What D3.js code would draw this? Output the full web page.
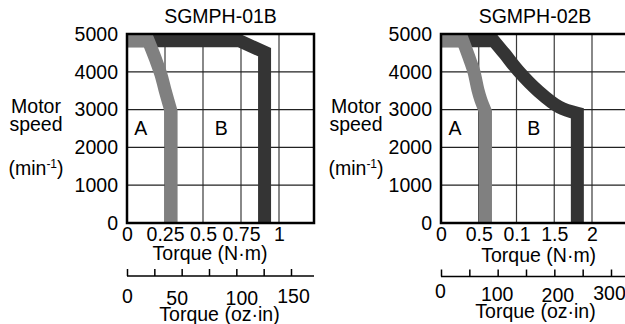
<!DOCTYPE html>
<html><head><meta charset="utf-8">
<script src="https://cdn.jsdelivr.net/npm/d3@7"></script>
<style>
body{margin:0;background:#fff;}
svg{display:block;font-family:"Liberation Sans",Arial,Helvetica,sans-serif;}
</style></head><body>
<svg id="c" width="625" height="324"></svg>
<script>
// ---------- data ----------
const titles = ["SGMPH-01B", "SGMPH-02B"];
const speedTicks = [0, 1000, 2000, 3000, 4000, 5000];

const torqueTicks1 = [0, 0.25, 0.5, 0.75, 1];
const torqueLabels1 = ["0", "0.25", "0.5", "0.75", "1"];
const ozTicks1 = [0, 25, 50, 75, 100, 125, 150];
const ozLabels1 = ["0", "", "50", "", "100", "", "150"];
// region A limit (grey) and region B limit (dark): [torque N·m, speed min-1]
const curveA1 = [[0, 4820], [0.14, 4820], [0.19, 4310], [0.224, 3920], [0.25, 3520], [0.29, 2950], [0.29, 0]];
const curveB1 = [[0, 4820], [0.74, 4820], [0.905, 4520], [0.905, 0]];

const torqueTicks2 = [0, 0.5, 1, 1.5, 2];
const torqueLabels2 = ["0", "0.5", "0.1", "1.5", "2"];
const ozTicks2 = [0, 50, 100, 150, 200, 250, 300];
const ozLabels2 = ["0", "", "100", "", "200", "", "300"];
const curveA2 = [[0, 4820], [0.29, 4820], [0.384, 4310], [0.437, 3995], [0.489, 3520], [0.529, 3250], [0.589, 2950], [0.589, 0]];
const curveB2 = [[0, 4820], [0.70, 4820], [0.842, 4478], [1.023, 4029], [1.292, 3484], [1.565, 3069], [1.806, 2900], [1.806, 0]];

const regionLabels1 = [["A", 0.09, 2330], ["B", 0.62, 2330]];
const regionLabels2 = [["A", 0.185, 2330], ["B", 1.23, 2330]];

// ---------- layout / style ----------
const FS = 19.5;
const svg = d3.select("#c");
const plotTop = 34, plotBottom = 223;
const y = d3.scaleLinear().domain([0, 5000]).range([plotBottom, plotTop]);

const charts = [
  {title: titles[0], titleX: 220.5, left: 127, right: 314,
   x: d3.scaleLinear().domain([0, 1]).range([127, 279]),
   tt: torqueTicks1, tl: torqueLabels1,
   oz: d3.scaleLinear().domain([0, 150]).range([127, 291]), ozT: ozTicks1, ozL: ozLabels1,
   ozY: 276, ozEnd: 314, ozNudge: [[0, 0], [0, 0], [-5, 2], [0, 0], [5, 2.5], [0, 0], [2, 0]], ozBase: 302.5,
   A: curveA1, B: curveB1, regions: regionLabels1,
   ylabX: 36, nmX: 210, nmY: 260, ozTitleX: 219.5, ozTitleY: 321},
  {title: titles[1], titleX: 535, left: 441, right: 660,
   x: d3.scaleLinear().domain([0, 2]).range([441, 592]),
   tt: torqueTicks2, tl: torqueLabels2,
   oz: d3.scaleLinear().domain([0, 300]).range([441, 611]), ozT: ozTicks2, ozL: ozLabels2,
   ozY: 276.5, ozEnd: 640, ozNudge: [[-1, 0], [0, 0], [-1, 2.5], [0, 0], [3, 3.5], [0, 0], [-2, 1.5]], ozBase: 298,
   A: curveA2, B: curveB2, regions: regionLabels2,
   ylabX: 356, nmX: 538.7, nmY: 262, ozTitleX: 535.5, ozTitleY: 317.5}
];

// polyline with straight first/last legs and a smooth middle section
function limitPath(pts, xs) {
  const px = d => xs(d[0]), py = d => y(d[1]);
  const mid = d3.line().x(px).y(py).curve(d3.curveCatmullRom.alpha(0.5))(pts.slice(1, -1));
  const last = pts[pts.length - 1];
  return `M${px(pts[0])},${py(pts[0])}L` + mid.slice(1) + `L${px(last)},${py(last)}`;
}

charts.forEach(c => {
  const g = svg.append("g");

  // grid
  const gridTx = c.tt.filter(v => v > 0);
  g.selectAll(".vg").data(gridTx).join("line")
    .attr("x1", d => c.x(d)).attr("x2", d => c.x(d))
    .attr("y1", plotTop).attr("y2", plotBottom)
    .attr("stroke", "#3a3a3a").attr("stroke-width", 1.2);
  g.selectAll(".hg").data(speedTicks.filter(v => v > 0 && v < 5000)).join("line")
    .attr("x1", c.left).attr("x2", c.right)
    .attr("y1", d => y(d)).attr("y2", d => y(d))
    .attr("stroke", "#222").attr("stroke-width", 1.2);

  // clip
  const clipId = "clip" + c.left;
  svg.append("clipPath").attr("id", clipId).append("rect")
    .attr("x", c.left).attr("y", plotTop).attr("width", c.right - c.left).attr("height", plotBottom - plotTop);

  const cg = g.append("g").attr("clip-path", `url(#${clipId})`);
  cg.append("path").attr("d", limitPath(c.B, c.x)).attr("fill", "none")
    .attr("stroke", "#343434").attr("stroke-width", 13).attr("stroke-linejoin", "miter");
  cg.append("path").attr("d", limitPath(c.A, c.x)).attr("fill", "none")
    .attr("stroke", "#808080").attr("stroke-width", 13).attr("stroke-linejoin", "miter");

  // border
  g.append("rect").attr("x", c.left).attr("y", plotTop)
    .attr("width", c.right - c.left).attr("height", plotBottom - plotTop)
    .attr("fill", "none").attr("stroke", "#000").attr("stroke-width", 2.5);

  // region labels
  g.selectAll(".rl").data(c.regions).join("text")
    .attr("x", d => c.x(d[1])).attr("y", d => y(d[2]))
    .attr("text-anchor", "middle").attr("font-size", FS).attr("fill", "#000")
    .text(d => d[0]);

  // title
  g.append("text").attr("x", c.titleX).attr("y", 23).attr("text-anchor", "middle")
    .attr("font-size", FS).text(c.title);

  // y axis labels
  const ya = d3.axisLeft(y).tickValues(speedTicks).tickSize(0).tickPadding(9).tickFormat(d3.format("d"));
  const yg = g.append("g").attr("transform", `translate(${c.left},0)`).call(ya);
  yg.select(".domain").remove();
  yg.selectAll("text").attr("font-size", FS).attr("font-family", null).attr("fill", "#000");

  // x axis (N·m)
  const xa = d3.axisBottom(c.x).tickValues(c.tt).tickSize(0).tickPadding(4.5)
    .tickFormat((d, i) => c.tl[i]);
  const xg = g.append("g").attr("transform", `translate(0,${plotBottom})`).call(xa);
  xg.select(".domain").remove();
  xg.selectAll("text").attr("font-size", FS).attr("font-family", null).attr("fill", "#000");

  g.append("text").attr("x", c.nmX).attr("y", c.nmY).attr("text-anchor", "middle")
    .attr("font-size", FS).text("Torque (N·m)");

  // oz·in axis
  g.append("line").attr("x1", c.oz(0)).attr("x2", c.ozEnd).attr("y1", c.ozY).attr("y2", c.ozY)
    .attr("stroke", "#000").attr("stroke-width", 1.5);
  const oa = d3.axisBottom(c.oz).tickValues(c.ozT).tickSize(-7).tickSizeOuter(0).tickPadding(0)
    .tickFormat((d, i) => c.ozL[i]);
  const og = g.append("g").attr("transform", `translate(0,${c.ozY})`).call(oa);
  og.select(".domain").remove();
  og.selectAll("line").attr("stroke", "#000").attr("stroke-width", 1.5);
  og.selectAll("text").attr("font-size", FS).attr("font-family", null).attr("fill", "#000")
    .attr("dy", null)
    .attr("x", (d, i) => c.ozNudge[i][0])
    .attr("y", (d, i) => c.ozBase - c.ozY + c.ozNudge[i][1]);

  g.append("text").attr("x", c.ozTitleX).attr("y", c.ozTitleY).attr("text-anchor", "middle")
    .attr("font-size", FS).text("Torque (oz·in)");

  // y title
  g.append("text").attr("x", c.ylabX).attr("y", 112.7).attr("text-anchor", "middle")
    .attr("font-size", FS).text("Motor");
  g.append("text").attr("x", c.ylabX).attr("y", 131).attr("text-anchor", "middle")
    .attr("font-size", FS).text("speed");
  const mt = g.append("text").attr("x", c.ylabX).attr("y", 175).attr("text-anchor", "middle")
    .attr("font-size", FS);
  mt.append("tspan").text("(min");
  mt.append("tspan").attr("font-size", 12).attr("dy", -7).text("-1");
  mt.append("tspan").attr("dy", 7).text(")");
});
</script>
</body></html>
